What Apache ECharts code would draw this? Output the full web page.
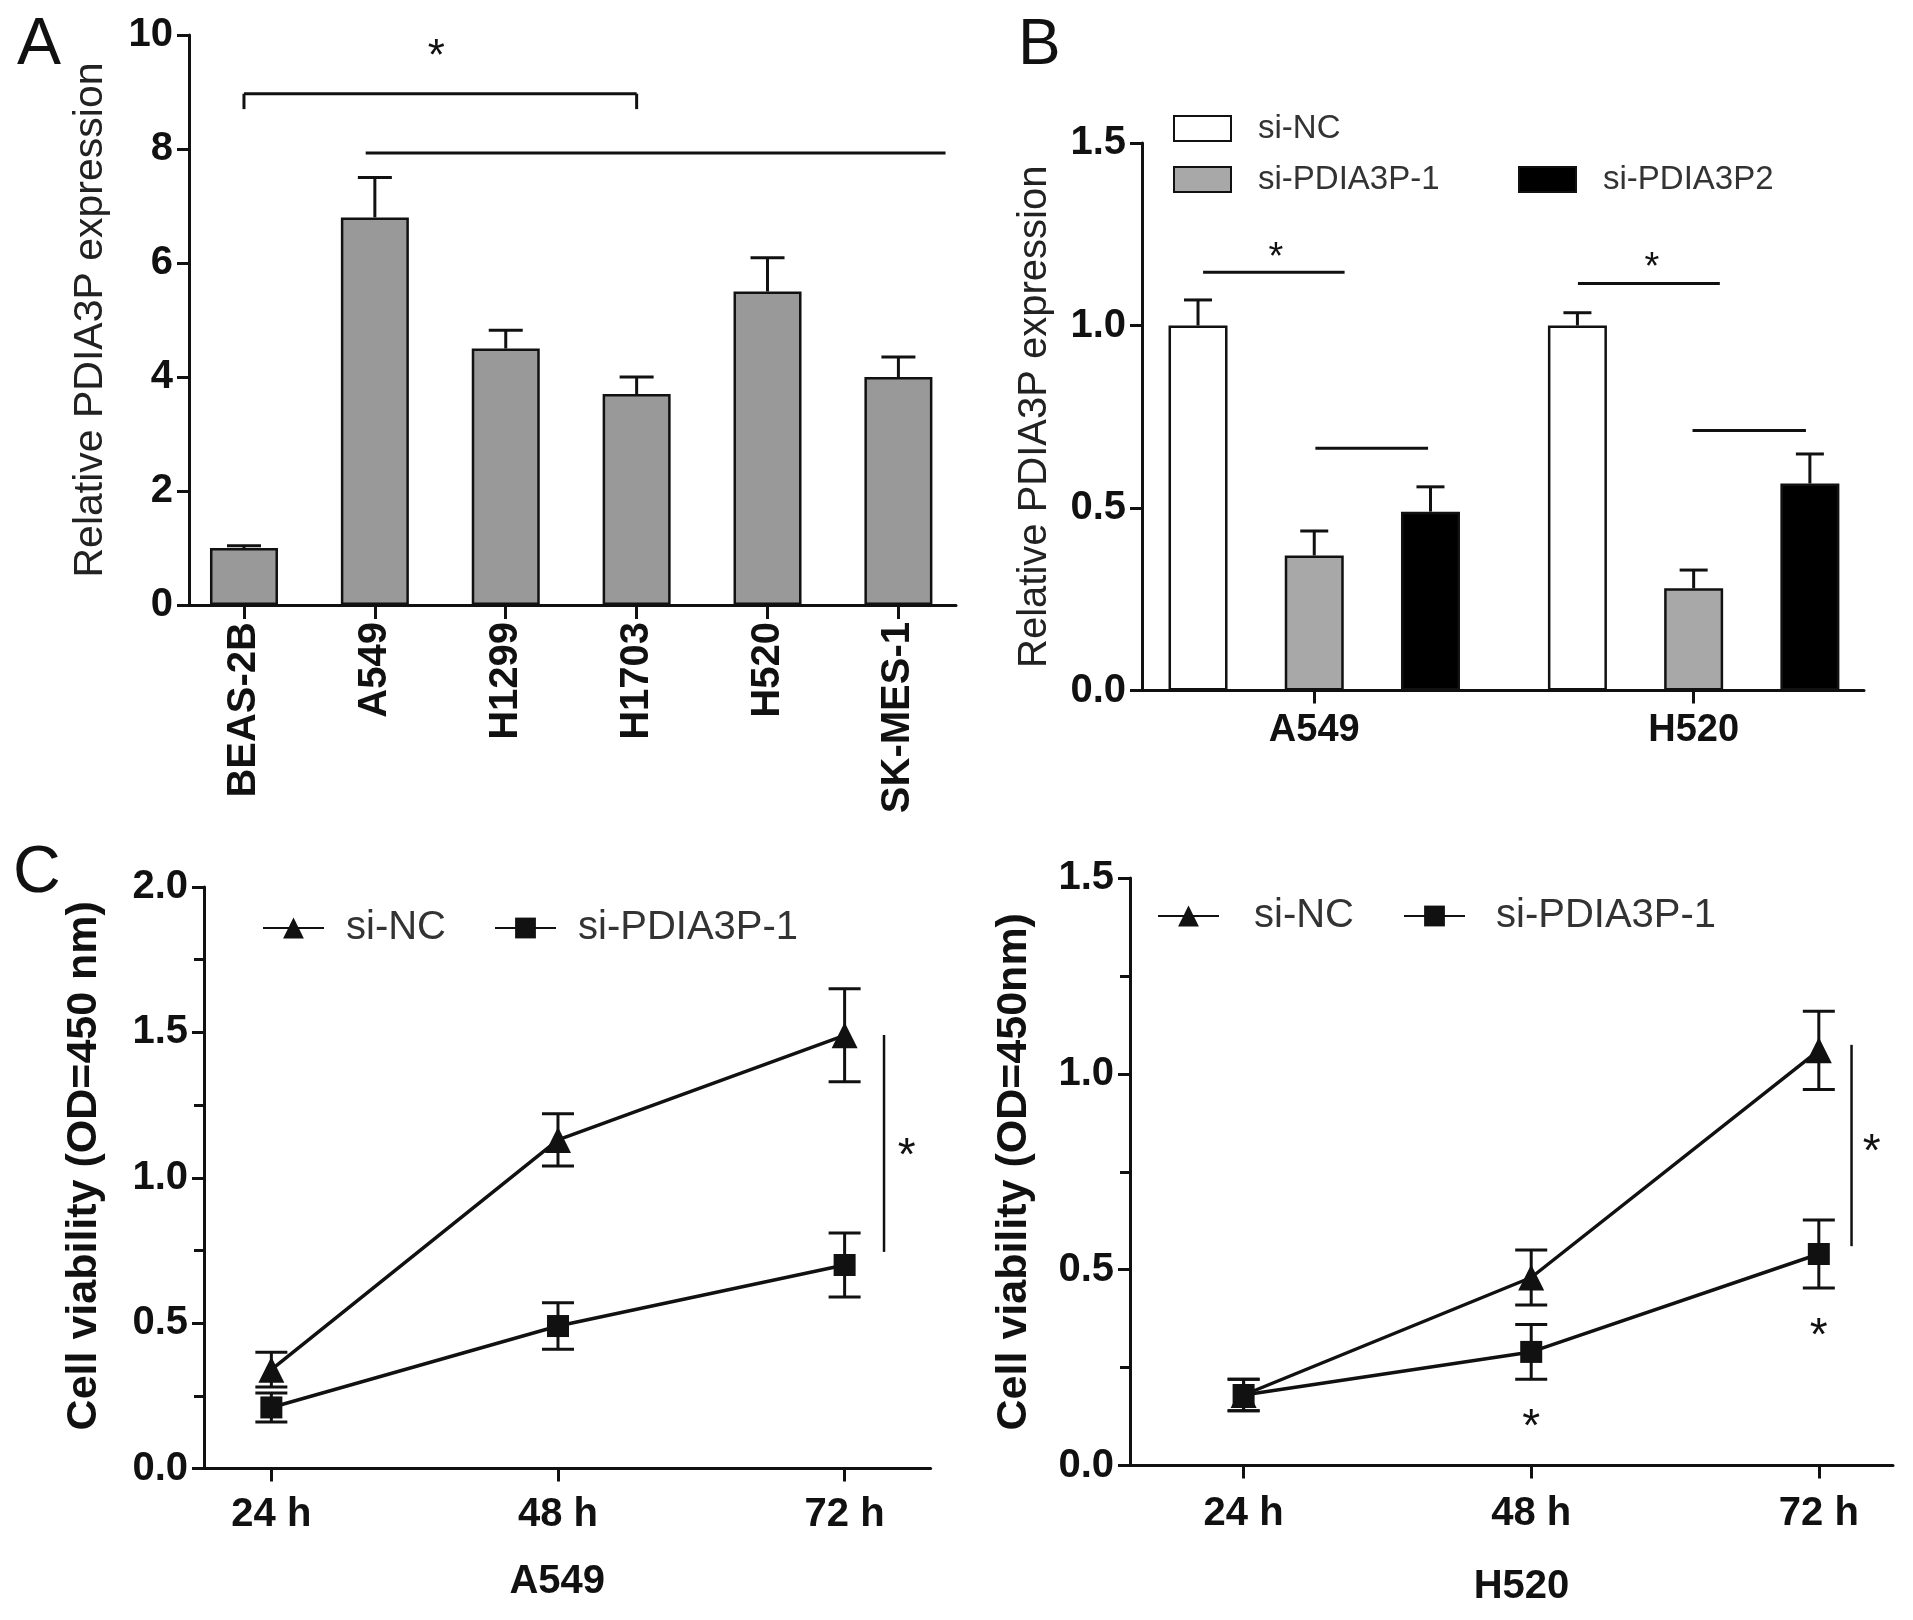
<!DOCTYPE html>
<html>
<head>
<meta charset="utf-8">
<script src="https://cdn.jsdelivr.net/npm/echarts@6/dist/echarts.min.js"></script>
<style>
html,body{margin:0;padding:0;background:#fff;}
#chart{width:1913px;height:1620px;}
</style>
</head>
<body>
<div id="chart"></div>
<script>
// ---------------- data ----------------
// Panel A
const cellLines = ['BEAS-2B', 'A549', 'H1299', 'H1703', 'H520', 'SK-MES-1'];
const exprA = [1.0, 6.8, 4.5, 3.7, 5.5, 4.0];
const exprAErr = [0.04, 0.70, 0.32, 0.30, 0.59, 0.35];

// Panel B
const groupsB = ['A549', 'H520'];
const siNCB = [1.0, 1.0];
const siNCBErr = [0.07, 0.035];
const si1B = [0.37, 0.28];
const si1BErr = [0.067, 0.05];
const si2B = [0.49, 0.567];
const si2BErr = [0.068, 0.081];

// Panel C
const hours = [24, 48, 72];
const a549NC = [0.34, 1.13, 1.49];
const a549NCErr = [0.06, 0.09, 0.16];
const a549Si1 = [0.21, 0.49, 0.70];
const a549Si1Err = [0.05, 0.08, 0.11];
const h520NC = [0.18, 0.48, 1.06];
const h520NCErr = [0.04, 0.07, 0.10];
const h520Si1 = [0.18, 0.29, 0.54];
const h520Si1Err = [0.04, 0.07, 0.087];

// significance annotations (data coordinates)
const bracketA = [0, 3, 8.97, 8.70];       // x from, x to, y, tick end
const lineA = [0.93, 5.36, 7.93];           // x from, x to, y
const starsA = [[1.47, 9.78]];
const linesB = [[-0.293, 0.080, 1.146], [0.003, 0.300, 0.664], [0.695, 1.069, 1.115], [0.997, 1.296, 0.712]];
const starsB = [[-0.101, 1.207], [0.890, 1.179]];
const vlineC1 = [75.3, 1.491, 0.745];       // x, y from, y to
const starsC1 = [[77.2, 1.105]];
const vlineC2 = [74.73, 1.074, 0.56];
const starsC2 = [[76.41, 0.824], [48, 0.123], [72, 0.354]];

// ---------------- styles ----------------
const FONT = '"Liberation Sans", Arial, Helvetica, sans-serif';
const INK = '#111';
const AXW = 3;

function pairs(xs, ys) { return xs.map((x, i) => [x, ys[i]]); }
function triples(xs, ys, es) { return xs.map((x, i) => [x, ys[i], es[i]]); }

function errSeries(xi, yi, data, offsetPx, capW, both, z) {
  return {
    type: 'custom', xAxisIndex: xi, yAxisIndex: yi, silent: true, z: z,
    data: data,
    renderItem: function (params, api) {
      const x = api.value(0), y = api.value(1), e = api.value(2);
      const p = api.coord([x, y]);
      const hi = api.coord([x, y + e]);
      const lo = api.coord([x, y - e]);
      const cx = p[0] + offsetPx;
      const st = { stroke: INK, lineWidth: 3 };
      const ch = [
        { type: 'line', shape: { x1: cx, y1: both ? lo[1] : p[1], x2: cx, y2: hi[1] }, style: st },
        { type: 'line', shape: { x1: cx - capW / 2, y1: hi[1], x2: cx + capW / 2, y2: hi[1] }, style: st }
      ];
      if (both) ch.push({ type: 'line', shape: { x1: cx - capW / 2, y1: lo[1], x2: cx + capW / 2, y2: lo[1] }, style: st });
      return { type: 'group', children: ch };
    }
  };
}

function annotSeries(xi, yi, drawFn) {
  return {
    type: 'custom', xAxisIndex: xi, yAxisIndex: yi, silent: true, z: 5,
    data: [[0, 0]],
    renderItem: function (params, api) {
      return { type: 'group', children: drawFn(api) };
    }
  };
}
function seg(p1, p2, w) {
  return { type: 'line', shape: { x1: p1[0], y1: p1[1], x2: p2[0], y2: p2[1] }, style: { stroke: INK, lineWidth: w || 3 } };
}
function star(p, size) {
  return { type: 'text', x: p[0], y: p[1] + 0.23 * size,
    style: { text: '*', fontSize: size, fontFamily: FONT, fill: INK, align: 'center', verticalAlign: 'middle' } };
}

function valueYAxis(gi, min, max, interval, opts) {
  return Object.assign({
    type: 'value', gridIndex: gi, min: min, max: max, interval: interval,
    axisLine: { show: true, onZero: false, lineStyle: { color: INK, width: AXW } },
    axisTick: { show: true, length: 12, lineStyle: { color: INK, width: AXW } },
    axisLabel: { color: INK, fontFamily: FONT, fontWeight: 'bold', fontSize: 40, margin: 16 },
    splitLine: { show: false },
    nameLocation: 'middle'
  }, opts || {});
}

const legendText = (size, padLeft) => ({ color: '#333', fontFamily: FONT, fontSize: size, lineHeight: size, padding: [0, 0, 0, padLeft] });

const option = {
  backgroundColor: '#ffffff',
  animation: false,
  grid: [
    { left: 189, top: 35, width: 767, height: 570 },
    { left: 1142, top: 143, width: 722, height: 547.5 },
    { left: 204, top: 887, width: 726.6, height: 581.5 },
    { left: 1130, top: 878, width: 763, height: 587.5 }
  ],
  xAxis: [
    { type: 'value', gridIndex: 0, min: -0.42, max: 5.44,
      axisLine: { show: true, onZero: false, lineStyle: { color: INK, width: AXW } },
      axisTick: { show: true, length: 14, customValues: [0, 1, 2, 3, 4, 5], lineStyle: { color: INK, width: AXW } },
      axisLabel: { show: true, customValues: [0, 1, 2, 3, 4, 5], rotate: 90, margin: 17,
        formatter: function (v) { return cellLines[Math.round(v)]; },
        color: INK, fontFamily: FONT, fontWeight: 'bold', fontSize: 40 },
      splitLine: { show: false } },
    { type: 'value', gridIndex: 1, min: -0.454, max: 1.449,
      axisLine: { show: true, onZero: false, lineStyle: { color: INK, width: AXW } },
      axisTick: { show: true, length: 13, customValues: [0, 1], lineStyle: { color: INK, width: AXW } },
      axisLabel: { show: true, customValues: [0, 1], margin: 21,
        formatter: function (v) { return groupsB[Math.round(v)]; },
        color: INK, fontFamily: FONT, fontWeight: 'bold', fontSize: 38 },
      splitLine: { show: false } },
    { type: 'value', gridIndex: 2, min: 18.36, max: 79.2,
      axisLine: { show: true, onZero: false, lineStyle: { color: INK, width: AXW } },
      axisTick: { show: true, length: 13, customValues: hours, lineStyle: { color: INK, width: AXW } },
      axisLabel: { show: true, customValues: hours, margin: 26, formatter: '{value} h',
        color: INK, fontFamily: FONT, fontWeight: 'bold', fontSize: 40 },
      splitLine: { show: false },
      name: 'A549', nameLocation: 'middle', nameGap: 93,
      nameTextStyle: { color: INK, fontFamily: FONT, fontWeight: 'bold', fontSize: 40, padding: [0, 20, 0, 0] } },
    { type: 'value', gridIndex: 3, min: 14.52, max: 78.19,
      axisLine: { show: true, onZero: false, lineStyle: { color: INK, width: AXW } },
      axisTick: { show: true, length: 13, customValues: hours, lineStyle: { color: INK, width: AXW } },
      axisLabel: { show: true, customValues: hours, margin: 28, formatter: '{value} h',
        color: INK, fontFamily: FONT, fontWeight: 'bold', fontSize: 40 },
      splitLine: { show: false },
      name: 'H520', nameLocation: 'middle', nameGap: 101,
      nameTextStyle: { color: INK, fontFamily: FONT, fontWeight: 'bold', fontSize: 40, padding: [0, 0, 0, 20] } }
  ],
  yAxis: [
    valueYAxis(0, 0, 10, 2, {
      name: 'Relative PDIA3P expression', nameGap: 78,
      nameTextStyle: { color: '#222', fontFamily: FONT, fontSize: 41 } }),
    valueYAxis(1, 0, 1.5, 0.5, {
      axisLabel: { color: INK, fontFamily: FONT, fontWeight: 'bold', fontSize: 40, margin: 16,
        formatter: function (v) { return v.toFixed(1); } },
      name: 'Relative PDIA3P expression', nameGap: 87,
      nameTextStyle: { color: '#222', fontFamily: FONT, fontSize: 40 } }),
    valueYAxis(2, 0, 2, 0.5, {
      axisLabel: { color: INK, fontFamily: FONT, fontWeight: 'bold', fontSize: 40, margin: 16,
        formatter: function (v) { return v.toFixed(1); } },
      minorTick: { show: true, splitNumber: 2, length: 10, lineStyle: { color: INK, width: AXW } },
      name: 'Cell viability (OD=450 nm)', nameGap: 98,
      nameTextStyle: { color: INK, fontFamily: FONT, fontWeight: 'bold', fontSize: 43, padding: [0, 0, 0, 24] } }),
    valueYAxis(3, 0, 1.5, 0.5, {
      axisLabel: { color: INK, fontFamily: FONT, fontWeight: 'bold', fontSize: 40, margin: 16,
        formatter: function (v) { return v.toFixed(1); } },
      minorTick: { show: true, splitNumber: 2, length: 10, lineStyle: { color: INK, width: AXW } },
      name: 'Cell viability (OD=450nm)', nameGap: 94,
      nameTextStyle: { color: INK, fontFamily: FONT, fontWeight: 'bold', fontSize: 43 } })
  ],
  legend: [
    // Panel B
    { data: ['B:si-NC'], left: 1173, top: 112, padding: 0, itemWidth: 57, itemHeight: 25, icon: 'rect', selectedMode: false,
      formatter: n => n.split(':')[1], textStyle: legendText(33, 22) },
    { data: ['B:si-PDIA3P-1'], left: 1173, top: 163, padding: 0, itemWidth: 57, itemHeight: 25, icon: 'rect', selectedMode: false,
      formatter: n => n.split(':')[1], textStyle: legendText(33, 22) },
    { data: ['B:si-PDIA3P2'], left: 1518, top: 163, padding: 0, itemWidth: 57, itemHeight: 25, icon: 'rect', selectedMode: false,
      formatter: n => n.split(':')[1], textStyle: legendText(33, 22) },
    // Panel C left
    { data: ['C1:si-NC'], left: 262, top: 908, padding: 0, itemWidth: 61, itemHeight: 26, selectedMode: false,
      formatter: n => n.split(':')[1], textStyle: legendText(40, 17) },
    { data: ['C1:si-PDIA3P-1'], left: 494, top: 908, padding: 0, itemWidth: 61, itemHeight: 26, selectedMode: false,
      formatter: n => n.split(':')[1], textStyle: legendText(40, 17) },
    // Panel C right
    { data: ['C2:si-NC'], left: 1157, top: 896, padding: 0, itemWidth: 61, itemHeight: 26, selectedMode: false,
      formatter: n => n.split(':')[1], textStyle: legendText(40, 30) },
    { data: ['C2:si-PDIA3P-1'], left: 1403, top: 896, padding: 0, itemWidth: 61, itemHeight: 26, selectedMode: false,
      formatter: n => n.split(':')[1], textStyle: legendText(40, 26) }
  ],
  graphic: [
    { type: 'text', left: 17, top: 13, style: { text: 'A', fontSize: 66, fontFamily: FONT, fill: INK } },
    { type: 'text', left: 1018, top: 14, style: { text: 'B', fontSize: 64, fontFamily: FONT, fill: INK } },
    { type: 'text', left: 13, top: 841, style: { text: 'C', fontSize: 66, fontFamily: FONT, fill: INK } }
  ],
  series: [
    // ---- Panel A ----
    { type: 'bar', name: 'A:expr', xAxisIndex: 0, yAxisIndex: 0, silent: true,
      data: pairs(cellLines.map((c, i) => i), exprA), barWidth: 68,
      itemStyle: { color: '#999999', borderColor: INK, borderWidth: 2.5 } },
    errSeries(0, 0, triples(cellLines.map((c, i) => i), exprA, exprAErr), 0, 34, false, 3),
    annotSeries(0, 0, function (api) {
      const a = api.coord([bracketA[0], bracketA[2]]), b = api.coord([bracketA[1], bracketA[2]]);
      const at = api.coord([bracketA[0], bracketA[3]]), bt = api.coord([bracketA[1], bracketA[3]]);
      const l1 = api.coord([lineA[0], lineA[2]]), l2 = api.coord([lineA[1], lineA[2]]);
      const out = [seg(a, b), seg(a, at), seg(b, bt), seg(l1, l2)];
      starsA.forEach(s => out.push(star(api.coord(s), 44)));
      return out;
    }),
    // ---- Panel B ----
    { type: 'bar', name: 'B:si-NC', xAxisIndex: 1, yAxisIndex: 1, silent: true,
      data: pairs([0, 1], siNCB), barWidth: 59, barGap: '97%',
      itemStyle: { color: '#ffffff', borderColor: INK, borderWidth: 2.5 } },
    { type: 'bar', name: 'B:si-PDIA3P-1', xAxisIndex: 1, yAxisIndex: 1, silent: true,
      data: pairs([0, 1], si1B), barWidth: 59, barGap: '97%',
      itemStyle: { color: '#a8a8a8', borderColor: INK, borderWidth: 2.5 } },
    { type: 'bar', name: 'B:si-PDIA3P2', xAxisIndex: 1, yAxisIndex: 1, silent: true,
      data: pairs([0, 1], si2B), barWidth: 59, barGap: '97%',
      itemStyle: { color: '#000000', borderColor: INK, borderWidth: 2.5 } },
    errSeries(1, 1, triples([0, 1], siNCB, siNCBErr), -59 * 1.97, 28, false, 3),
    errSeries(1, 1, triples([0, 1], si1B, si1BErr), 0, 28, false, 3),
    errSeries(1, 1, triples([0, 1], si2B, si2BErr), 59 * 1.97, 28, false, 3),
    annotSeries(1, 1, function (api) {
      const out = linesB.map(l => seg(api.coord([l[0], l[2]]), api.coord([l[1], l[2]])));
      starsB.forEach(s => out.push(star(api.coord(s), 38)));
      return out;
    }),
    // ---- Panel C left ----
    { type: 'line', name: 'C1:si-NC', xAxisIndex: 2, yAxisIndex: 2, silent: true, z: 4,
      data: pairs(hours, a549NC), symbol: 'triangle', symbolSize: 26,
      lineStyle: { color: INK, width: 3.5 }, itemStyle: { color: INK } },
    { type: 'line', name: 'C1:si-PDIA3P-1', xAxisIndex: 2, yAxisIndex: 2, silent: true, z: 4,
      data: pairs(hours, a549Si1), symbol: 'rect', symbolSize: 22,
      lineStyle: { color: INK, width: 3.5 }, itemStyle: { color: INK } },
    errSeries(2, 2, triples(hours, a549NC, a549NCErr), 0, 32, true, 3),
    errSeries(2, 2, triples(hours, a549Si1, a549Si1Err), 0, 32, true, 3),
    annotSeries(2, 2, function (api) {
      const out = [seg(api.coord([vlineC1[0], vlineC1[1]]), api.coord([vlineC1[0], vlineC1[2]]), 2.5)];
      starsC1.forEach(s => out.push(star(api.coord(s), 46)));
      return out;
    }),
    // ---- Panel C right ----
    { type: 'line', name: 'C2:si-NC', xAxisIndex: 3, yAxisIndex: 3, silent: true, z: 4,
      data: pairs(hours, h520NC), symbol: 'triangle', symbolSize: 26,
      lineStyle: { color: INK, width: 3.5 }, itemStyle: { color: INK } },
    { type: 'line', name: 'C2:si-PDIA3P-1', xAxisIndex: 3, yAxisIndex: 3, silent: true, z: 4,
      data: pairs(hours, h520Si1), symbol: 'rect', symbolSize: 22,
      lineStyle: { color: INK, width: 3.5 }, itemStyle: { color: INK } },
    errSeries(3, 3, triples(hours, h520NC, h520NCErr), 0, 32, true, 3),
    errSeries(3, 3, triples(hours, h520Si1, h520Si1Err), 0, 32, true, 3),
    annotSeries(3, 3, function (api) {
      const out = [seg(api.coord([vlineC2[0], vlineC2[1]]), api.coord([vlineC2[0], vlineC2[2]]), 2.5)];
      starsC2.forEach(s => out.push(star(api.coord(s), 46)));
      return out;
    })
  ]
};

const chart = echarts.init(document.getElementById('chart'), null, { renderer: 'canvas' });
chart.setOption(option);
</script>
</body>
</html>
